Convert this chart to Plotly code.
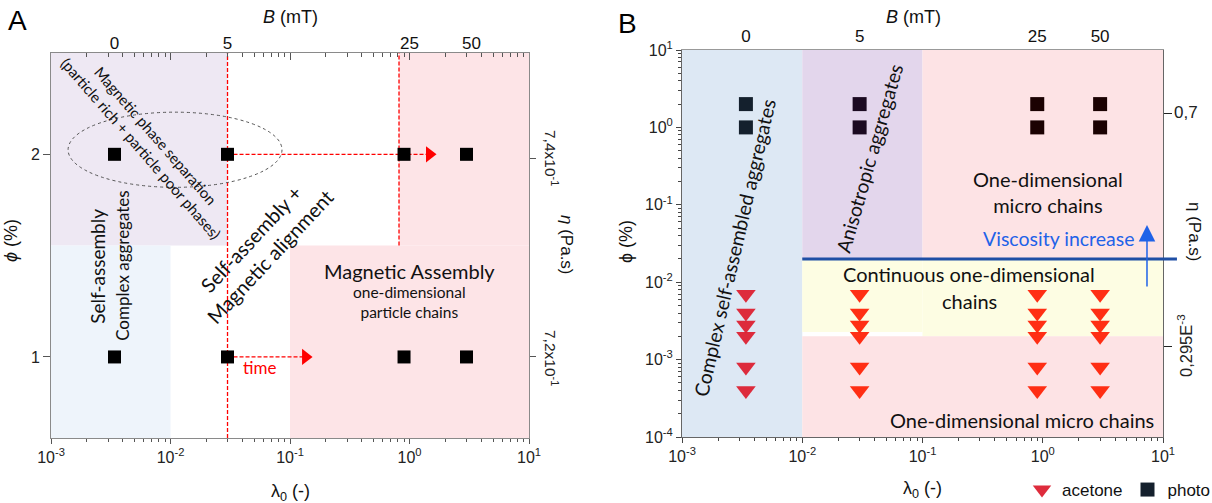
import numpy as np
import plotly.graph_objects as go

W, H = 1212, 503

# ---------------- data : panel A ----------------
lam_A = [0.0034, 0.03, 0.9, 3.0]          # lambda_0 of the four field strengths
phi_A = [2, 1]                             # particle volume fractions (%)
B_labels = ["0", "5", "25", "50"]          # B (mT) labels of top axis
B_pos_A = [0.0034, 0.03, 1.0, 3.3]
arrow_phi_A = [2, 1]
arrow_start_A = [0.03, 0.03]
arrow_end_A = [1.47, 0.135]
eta_pos_A = [1.98, 1.0]
eta_text_A = ["7,4x10<sup>-1</sup>", "7,2x10<sup>-1</sup>"]
ellipse_A = dict(x0=0.00139, x1=0.0857, y0=1.837, y1=2.208)
# region boundaries (lambda range, phi range)
regions_A = [
    ("#EEE8F3", [1e-3, 0.03], [1.55, 2.5]),
    ("#EEF4FB", [1e-3, 1e-2], [0.6, 1.55]),
    ("#FDE4E7", [0.817, 10], [1.55, 2.5]),
    ("#FDE4E7", [0.1, 10], [0.6, 1.55]),
]
vlines_A = [(0.03, 0.6, 2.5), (0.817, 1.55, 2.5)]

# ---------------- data : panel B ----------------
lam_B = [0.0034, 0.03, 0.9, 3.0]
phi_photo_B = [2, 1]
phi_acetone_B = [0.007, 0.004, 0.0028, 0.002, 0.0008, 0.0004]
tri_colors_B = ["#DC2131", "#FF2408", "#FF2408", "#FF2408"]
sq_colors_B = ["#14202D", "#1B0A21", "#1B0202", "#1B0202"]
eta_pos_B = [1.53, 0.00146]
visc_line_phi = 0.02
visc_arrow_lam = 7.36
visc_arrow_phi = [0.0084, 0.0548]
regions_B = [
    ("#DDE8F4", [1e-3, 1e-2], [1e-4, 10]),
    ("#E3D6EC", [1e-2, 1e-1], [0.02, 10]),
    ("#FDE3E5", [1e-1, 10], [0.02, 10]),
    ("#FDFDE3", [1e-2, 1e-1], [0.00228, 0.02]),
    ("#FDFDE3", [1e-1, 10], [0.002, 0.02]),
    ("#FDE3E5", [1e-2, 10], [1e-4, 0.002]),
]

# ---------------- helpers ----------------
def px(x):
    return x / W

def py(y):
    return 1 - y / H

majors_x = [1e-3, 1e-2, 1e-1, 1, 10]
majors_x_txt = ["10<sup>-3</sup>", "10<sup>-2</sup>", "10<sup>-1</sup>", "10<sup>0</sup>", "10<sup>1</sup>"]
minors_x = [k * 10.0 ** e for e in range(-3, 1) for k in range(2, 10)]
majors_y = [1e-4, 1e-3, 1e-2, 1e-1, 1, 10]
majors_y_txt = ["10<sup>-4</sup>", "10<sup>-3</sup>", "10<sup>-2</sup>", "10<sup>-1</sup>", "10<sup>0</sup>", "10<sup>1</sup>"]
minors_y = [k * 10.0 ** e for e in range(-4, 1) for k in range(2, 10)]

TXT = "Lato"
TICKF = dict(family="Liberation Sans", size=16, color="#222")
AX_A = "#8a8a8a"
AX_B = "#666666"

fig = go.Figure()

# ---------------- panel A traces ----------------
for ph, x0, x1 in zip(arrow_phi_A, arrow_start_A, arrow_end_A):
    fig.add_trace(go.Scatter(x=[x0, x1], y=[ph, ph], mode="lines",
                             line=dict(color="#FF0000", width=1.3, dash="4px,2px"),
                             xaxis="x", yaxis="y", showlegend=False, hoverinfo="skip"))
    fig.add_trace(go.Scatter(x=[x1], y=[ph], mode="markers",
                             marker=dict(symbol="triangle-right", size=14, color="#FF0000"),
                             xaxis="x", yaxis="y", showlegend=False, hoverinfo="skip"))
for ph in phi_A:
    fig.add_trace(go.Scatter(x=lam_A, y=[ph] * len(lam_A), mode="markers",
                             marker=dict(symbol="square", size=13, color="#000000"),
                             xaxis="x", yaxis="y", showlegend=False, hoverinfo="skip"))

# ---------------- panel B traces ----------------
for i, lx in enumerate(lam_B):
    fig.add_trace(go.Scatter(x=[lx] * len(phi_acetone_B), y=phi_acetone_B, mode="markers",
                             marker=dict(symbol="triangle-down", size=17, color=tri_colors_B[i], opacity=0.95),
                             name="acetone", showlegend=(i == 0),
                             xaxis="x2", yaxis="y2", hoverinfo="skip"))
for i, lx in enumerate(lam_B):
    fig.add_trace(go.Scatter(x=[lx] * len(phi_photo_B), y=phi_photo_B, mode="markers",
                             marker=dict(symbol="square", size=14, color=sq_colors_B[i]),
                             name="photo", showlegend=(i == 0),
                             xaxis="x2", yaxis="y2", hoverinfo="skip"))

# empty traces to register overlay axes
for xa, ya in [("x3", "y"), ("x4", "y"), ("x", "y3"), ("x5", "y2"), ("x2", "y4")]:
    fig.add_trace(go.Scatter(x=[], y=[], xaxis=xa, yaxis=ya, showlegend=False, hoverinfo="skip"))

shapes = []
for col, xr, yr in regions_A:
    shapes.append(dict(type="rect", xref="x", yref="y", x0=xr[0], x1=xr[1], y0=yr[0], y1=yr[1],
                       fillcolor=col, line=dict(width=0), layer="below"))
for xv, y0, y1 in vlines_A:
    shapes.append(dict(type="line", xref="x", yref="y", x0=xv, x1=xv, y0=y0, y1=y1,
                       line=dict(color="#FF0000", width=1.3, dash="4px,2px"), layer="below"))
shapes.append(dict(type="circle", xref="x", yref="y", **ellipse_A,
                   line=dict(color="#555555", width=1, dash="dot"), layer="below"))
for col, xr, yr in regions_B:
    shapes.append(dict(type="rect", xref="x2", yref="y2", x0=xr[0], x1=xr[1], y0=yr[0], y1=yr[1],
                       fillcolor=col, line=dict(width=0), layer="below"))
# horizontal viscosity line (runs a little past the right frame)
ydom = (np.log10(visc_line_phi) + 4) / 5
shapes.append(dict(type="line", xref="x2 domain", yref="y2 domain",
                   x0=(np.log10(1e-2) + 3) / 4, x1=1.029, y0=ydom, y1=ydom,
                   line=dict(color="#1F4FA5", width=3)))

ann = []
def txt(text, x, y, size, xref="x", yref="y", angle=0, color="#111111", family=TXT, **kw):
    ann.append(dict(text=text, x=x, y=y, xref=xref, yref=yref, textangle=angle, showarrow=False,
                    font=dict(family=family, size=size, color=color), xanchor="center", yanchor="middle", **kw))

L = np.log10
# panel A in-plot texts
txt("Magnetic phase separation<br>(particle rich + particle poor phases)", -2.188, 2.06, 15, angle=49)
txt("Self-assembly", -2.607, 1.45, 19, angle=-90)
txt("Complex aggregates", -2.397, 1.45, 17, angle=-90)
txt("Self-assembly +<br>Magnetic alignment", -1.251, 1.537, 20, angle=-47)
txt("Magnetic Assembly", 0.004, 1.426, 20)
txt("one-dimensional<br>particle chains", 0.004, 1.272, 15.5)
txt("time", -1.259, 0.946, 17, color="#FF0000")
# panel B in-plot texts
txt("Complex self-assembled aggregates", -2.559, -1.558, 19.5, "x2", "y2", angle=-77)
txt("Anisotropic aggregates", -1.437, -0.395, 19.5, "x2", "y2", angle=-74)
txt("One-dimensional<br>micro chains", 0.044, -0.835, 20, "x2", "y2")
txt("Viscosity increase", 0.135, -1.429, 19.5, "x2", "y2", color="#1F62E8")
txt("Continuous one-dimensional", -0.613, -1.894, 20, "x2", "y2")
txt("chains", -0.613, -2.243, 20, "x2", "y2")
txt("One-dimensional micro chains", -0.173, -3.78, 20, "x2", "y2")
ann.append(dict(x=L(visc_arrow_lam), y=L(visc_arrow_phi[1]), ax=L(visc_arrow_lam), ay=L(visc_arrow_phi[0]),
                xref="x2", yref="y2", axref="x2", ayref="y2", showarrow=True, text="",
                arrowhead=2, arrowsize=2.2, arrowwidth=1.5, arrowcolor="#1F62E8"))

# axis titles / side labels (paper coordinates)
AF = "Liberation Sans"
txt("A", px(17), py(21), 28, "paper", "paper", family=AF, color="#000")
txt("B", px(627), py(23), 28, "paper", "paper", family=AF, color="#000")
txt("<i>B</i> (mT)", px(290), py(17), 18, "paper", "paper", family=AF, color="#111")
txt("<i>B</i> (mT)", px(913), py(17), 18, "paper", "paper", family=AF, color="#111")
txt("λ<sub>0</sub> (-)", px(290), py(492), 18, "paper", "paper", family=AF, color="#111")
txt("λ<sub>0</sub> (-)", px(922), py(489), 18, "paper", "paper", family=AF, color="#111")
txt("<i>ϕ</i> (%)", px(11), py(241), 18, "paper", "paper", angle=-90, family=AF, color="#111")
txt("ϕ (%)", px(626), py(242), 18, "paper", "paper", angle=-90, family=AF, color="#111")
txt("<i>η</i> (Pa.s)", px(567), py(245), 17, "paper", "paper", angle=90, family=AF, color="#111")
txt("η (Pa.s)", px(1195), py(232), 17, "paper", "paper", angle=90, family=AF, color="#111")
txt(eta_text_A[0], px(551), py(158), 15.5, "paper", "paper", angle=90, family=AF, color="#222")
txt(eta_text_A[1], px(551), py(358), 15.5, "paper", "paper", angle=90, family=AF, color="#222")
ann.append(dict(text="0,7", x=px(1172), y=py(113), xref="paper", yref="paper", showarrow=False,
                xanchor="left", yanchor="middle", font=dict(family=AF, size=17, color="#222")))
txt("0,295E<sup>-3</sup>", px(1185), py(346), 16.5, "paper", "paper", angle=-90, family=AF, color="#222")

dAx = [px(51), px(529)]
dAy = [py(438), py(53)]
dBx = [px(682), px(1163)]
dBy = [py(437), py(50)]

common = dict(showgrid=False, zeroline=False, automargin=False)
fig.update_layout(
    width=W, height=H, margin=dict(l=0, r=0, t=0, b=0, autoexpand=False),
    paper_bgcolor="white", plot_bgcolor="white",
    font=dict(family="Liberation Sans", color="#222"),
    shapes=shapes, annotations=ann,
    showlegend=True,
    legend=dict(orientation="h", x=px(1022), y=py(490), xanchor="left", yanchor="middle",
                font=dict(family="Liberation Sans", size=17, color="#111"), bgcolor="rgba(0,0,0,0)",
                itemwidth=30, tracegroupgap=0),
    # ---- panel A ----
    xaxis=dict(domain=dAx, anchor="y", type="log", range=[-3, 1], tickvals=majors_x, ticktext=majors_x_txt,
               ticks="outside", ticklen=5, tickcolor="#555", showline=True, linecolor=AX_A, tickfont=TICKF,
               minor=dict(tickvals=minors_x, ticks="outside", ticklen=3, tickcolor="#555"), **common),
    xaxis3=dict(overlaying="x", anchor="y", side="top", type="log", range=[-3, 1], tickvals=majors_x,
                ticks="inside", ticklen=7, tickcolor="#555", showticklabels=False, showline=True, linecolor=AX_A,
                minor=dict(tickvals=minors_x, ticks="inside", ticklen=4, tickcolor="#555"), **common),
    xaxis4=dict(overlaying="x", anchor="y", side="top", type="log", range=[-3, 1], tickvals=B_pos_A,
                ticktext=B_labels, ticks="", showline=False, tickfont=dict(family=AF, size=17, color="#111"), **common),
    yaxis=dict(domain=dAy, anchor="x", range=[0.6, 2.5], tickvals=[1, 2], ticks="outside", ticklen=7,
               tickcolor="#555", showline=True, linecolor=AX_A, tickfont=TICKF, **common),
    yaxis3=dict(overlaying="y", anchor="x", side="right", range=[0.6, 2.5], tickvals=eta_pos_A, ticks="outside",
                ticklen=6, tickcolor="#555", showticklabels=False, showline=True, linecolor=AX_A, **common),
    # ---- panel B ----
    xaxis2=dict(domain=dBx, anchor="y2", type="log", range=[-3, 1], tickvals=majors_x, ticktext=majors_x_txt,
                ticks="outside", ticklen=5, tickcolor="#444", showline=True, linecolor=AX_B, tickfont=TICKF,
                minor=dict(tickvals=minors_x, ticks="outside", ticklen=3, tickcolor="#444"), **common),
    yaxis2=dict(domain=dBy, anchor="x2", type="log", range=[-4, 1], tickvals=majors_y, ticktext=majors_y_txt,
                ticks="outside", ticklen=5, tickcolor="#444", showline=True, linecolor=AX_B, tickfont=TICKF,
                minor=dict(tickvals=minors_y, ticks="outside", ticklen=3, tickcolor="#444"), **common),
    xaxis5=dict(overlaying="x2", anchor="y2", side="top", type="log", range=[-3, 1], tickvals=lam_B,
                ticktext=B_labels, ticks="", showline=True, linecolor="#999", tickfont=dict(family=AF, size=17, color="#111"), **common),
    yaxis4=dict(overlaying="y2", anchor="x2", side="right", type="log", range=[-4, 1], tickvals=eta_pos_B,
                ticks="outside", ticklen=8, tickcolor="#222", showticklabels=False, showline=True, linecolor=AX_B, **common),
)

fig.write_html("out.html")
